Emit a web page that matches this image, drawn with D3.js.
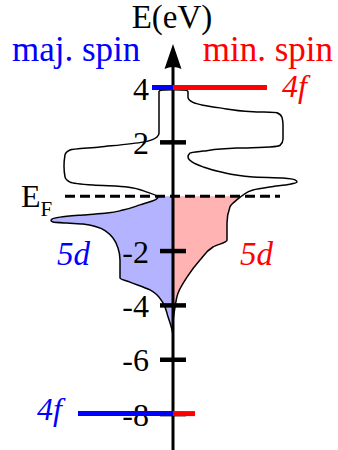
<!DOCTYPE html>
<html>
<head>
<meta charset="utf-8">
<script src="https://cdn.jsdelivr.net/npm/d3@7"></script>
<style>
  html, body { margin: 0; padding: 0; background: #fff; }
  svg { display: block; }
  text { font-family: "Liberation Serif", "Times New Roman", serif; }
</style>
</head>
<body>
<svg id="chart" width="338" height="450"></svg>
<script>
// Energy axis ticks (eV)
const tickValues = [4, 2, 0, -2, -4, -6, -8];
const tickLabels = ["4", "2", "", "-2", "-4", "-6", "-8"];

// Localised 4f levels (eV)
const level4fMajority = -8;
const level4fMinority = 4;

// Majority-spin DOS (drawn to the left): [energy eV, DOS arb. units]
const dosMajority = [
  [3.93, 0.0], [3.91, 1.1], [3.85, 1.4], [2.32, 1.4], [2.18, 1.6],
  [1.99, 3.0], [1.81, 7.3], [1.70, 10.3], [1.52, 10.8], [1.10, 10.9],
  [0.71, 10.8], [0.52, 10.3], [0.41, 8.0], [0.34, 4.6], [0.15, 2.6],
  [-0.03, 1.5], [-0.12, 1.7], [-0.32, 3.3], [-0.51, 5.0], [-0.62, 6.6],
  [-0.69, 9.0], [-0.77, 11.3], [-0.84, 12.1], [-0.89, 12.2], [-0.95, 12.0],
  [-0.99, 10.6], [-1.02, 9.0], [-1.13, 7.6], [-1.32, 6.6], [-1.54, 6.0],
  [-1.91, 5.5], [-2.35, 5.3], [-3.01, 5.3], [-3.16, 4.3], [-3.45, 2.3],
  [-3.93, 1.0], [-4.44, 0.5], [-4.92, 0.1], [-5.10, 0.0]
];

// Minority-spin DOS (drawn to the right): [energy eV, DOS arb. units]
const dosMinority = [
  [3.93, 0.0], [3.91, 1.2], [3.85, 1.5], [3.64, 1.5], [3.45, 2.0],
  [3.35, 3.0], [3.25, 4.7], [3.11, 8.0], [3.07, 10.4], [2.90, 10.9],
  [2.63, 11.0], [2.10, 11.0], [1.87, 10.7], [1.81, 9.7], [1.77, 6.4],
  [1.66, 3.0], [1.59, 1.7], [1.45, 1.5], [1.26, 1.9], [1.08, 3.0],
  [0.90, 4.7], [0.71, 8.0], [0.67, 11.0], [0.60, 12.2], [0.52, 12.4],
  [0.44, 11.7], [0.34, 9.7], [0.23, 8.0], [0.04, 7.0], [-0.10, 6.5],
  [-0.39, 5.7], [-0.99, 5.4], [-1.62, 5.4], [-1.87, 4.0], [-2.35, 2.7],
  [-2.98, 1.4], [-3.57, 0.5], [-4.09, 0.2], [-4.68, 0.0], [-5.10, 0.0]
];

const svg = d3.select("#chart");
const axisX = 173;

const y = d3.scaleLinear().domain([4, -8]).range([87.5, 413.6]);
const xLeft = d3.scaleLinear().domain([0, 10]).range([axisX, axisX - 100]);
const xRight = d3.scaleLinear().domain([0, 10]).range([axisX, axisX + 100]);

// Occupied states lie below the Fermi level
svg.append("defs").append("clipPath").attr("id", "occupied")
  .append("rect")
  .attr("x", 0).attr("y", y(0))
  .attr("width", 338).attr("height", 450 - y(0));

function drawDos(data, xs, fill) {
  const area = d3.area()
    .y(d => y(d[0]))
    .x0(axisX)
    .x1(d => xs(d[1]))
    .curve(d3.curveMonotoneY);
  svg.append("path")
    .datum(data)
    .attr("d", area)
    .attr("fill", fill)
    .attr("clip-path", "url(#occupied)");
  const line = d3.line()
    .y(d => y(d[0]))
    .x(d => xs(d[1]))
    .curve(d3.curveMonotoneY);
  svg.append("path")
    .datum(data)
    .attr("d", line)
    .attr("fill", "none")
    .attr("stroke", "#000")
    .attr("stroke-width", 1.5);
}

drawDos(dosMajority, xLeft, "#b3b3ff");
drawDos(dosMinority, xRight, "#ffb3b3");

// Fermi level
svg.append("line")
  .attr("x1", 65).attr("x2", 280)
  .attr("y1", y(0)).attr("y2", y(0))
  .attr("stroke", "#000")
  .attr("stroke-width", 3)
  .attr("stroke-dasharray", "10,5");

// Energy axis with arrow
svg.append("line")
  .attr("x1", axisX).attr("x2", axisX)
  .attr("y1", 66).attr("y2", 450)
  .attr("stroke", "#000")
  .attr("stroke-width", 3);
svg.append("path")
  .attr("d", `M${axisX},44 L${axisX + 8.5},69 Q${axisX},65 ${axisX - 8.5},69 Z`)
  .attr("fill", "#000");

// Ticks and labels
const axis = d3.axisLeft(y)
  .tickValues(tickValues.filter(v => v !== 0))
  .tickFormat(v => tickLabels[tickValues.indexOf(v)])
  .tickSize(0)
  .tickPadding(0);
const gAxis = svg.append("g")
  .attr("transform", `translate(${axisX},0)`)
  .call(axis);
gAxis.select(".domain").remove();
gAxis.selectAll(".tick text")
  .attr("x", -24)
  .attr("dy", "0.36em")
  .attr("fill", "#000")
  .style("font-size", "32px")
  .style("font-family", "'Liberation Serif', 'Times New Roman', serif");
gAxis.selectAll(".tick").append("line")
  .attr("x1", -13).attr("x2", 13)
  .attr("stroke", "#000")
  .attr("stroke-width", 4.5);

// 4f levels
svg.append("line")
  .attr("x1", xLeft(2.1)).attr("x2", axisX)
  .attr("y1", y(level4fMinority)).attr("y2", y(level4fMinority))
  .attr("stroke", "#0000ff").attr("stroke-width", 5);
svg.append("line")
  .attr("x1", axisX).attr("x2", xRight(9.4))
  .attr("y1", y(level4fMinority)).attr("y2", y(level4fMinority))
  .attr("stroke", "#ff0000").attr("stroke-width", 5);
svg.append("line")
  .attr("x1", xLeft(9.5)).attr("x2", axisX)
  .attr("y1", y(level4fMajority)).attr("y2", y(level4fMajority))
  .attr("stroke", "#0000ff").attr("stroke-width", 5);
svg.append("line")
  .attr("x1", axisX).attr("x2", xRight(2.2))
  .attr("y1", y(level4fMajority)).attr("y2", y(level4fMajority))
  .attr("stroke", "#ff0000").attr("stroke-width", 5);

// Labels
function label(txt, x, yy, size, color, anchor, italic) {
  return svg.append("text")
    .attr("x", x).attr("y", yy)
    .attr("text-anchor", anchor)
    .attr("fill", color)
    .style("font-size", size + "px")
    .style("font-style", italic ? "italic" : "normal")
    .text(txt);
}
label("E(eV)", 172, 28, 33, "#000", "middle", false);
label("maj. spin", 12, 61, 35, "#0000ff", "start", false);
label("min. spin", 333, 61, 35, "#ff0000", "end", false);
label("4f", 282, 97, 32, "#ff0000", "start", true);
label("4f", 37, 420, 32, "#0000ff", "start", true);
label("5d", 57, 265, 33, "#0000ff", "start", true);
label("5d", 240, 265, 33, "#ff0000", "start", true);

const ef = svg.append("text")
  .attr("x", 21).attr("y", 207)
  .attr("fill", "#000")
  .style("font-size", "32px");
ef.append("tspan").text("E");
ef.append("tspan").attr("dy", 9).style("font-size", "21px").text("F");
</script>
</body>
</html>
